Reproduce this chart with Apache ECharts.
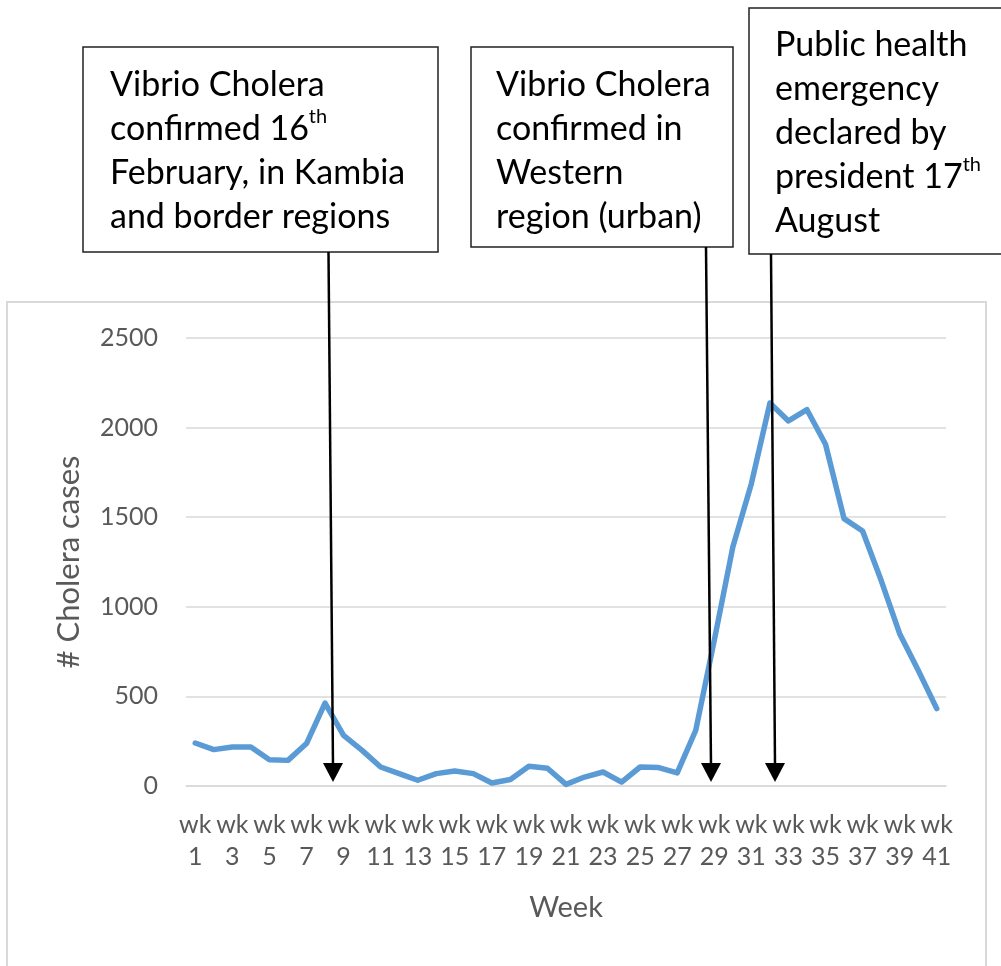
<!DOCTYPE html>
<html>
<head>
<meta charset="utf-8">
<style>
  html, body { margin: 0; padding: 0; background: #ffffff; }
  #chart { width: 1001px; height: 966px; }
</style>
<script src="https://cdn.jsdelivr.net/npm/echarts@6/dist/echarts.min.js"></script>
</head>
<body>
<div id="chart"></div>
<script>
// Weekly cholera cases, weeks 1-41
const weeks = Array.from({ length: 41 }, (_, i) => 'wk\n' + (i + 1));
const cases = [
  240, 203, 218, 218, 147, 143, 237, 463, 283, 199,
  106, 69, 32, 69, 84, 69, 17, 36, 110, 99,
  9, 50, 78, 22, 106, 103, 73, 311, 813, 1334,
  1687, 2137, 2037, 2100, 1907, 1492, 1423, 1148, 850, 646,
  432
];
const yTicks = { min: 0, max: 2500, interval: 500 };

// Event annotations: box text lines
const note1 = ['Vibrio Cholera', 'confirmed 16{sup|th}', 'February, in Kambia', 'and border regions'];
const note2 = ['Vibrio Cholera', 'confirmed in', 'Western', 'region (urban)'];
const note3 = ['Public health', 'emergency', 'declared by', 'president 17{sup|th}', 'August'];

const FONT = 'Lato, "Open Sans", sans-serif';
const textRich = {
  sup: { fontSize: 20, lineHeight: 24, verticalAlign: 'top', fontFamily: FONT, color: '#000' }
};

function box(x, y, w, h) {
  return {
    type: 'rect', z: 10,
    shape: { x: x, y: y, width: w, height: h },
    style: { fill: '#fff', stroke: '#222', lineWidth: 1.5 }
  };
}
function boxText(x, y, lines) {
  return {
    type: 'text', z: 11,
    x: x, y: y,
    style: {
      text: lines.join('\n'),
      fontSize: 34, lineHeight: 44, fontFamily: FONT, fill: '#000',
      rich: textRich
    }
  };
}
function arrow(x1, y1, x2, y2) {
  return [
    {
      type: 'line', z: 12,
      shape: { x1: x1, y1: y1, x2: x2, y2: y2 - 16 },
      style: { stroke: '#000', lineWidth: 2.5 }
    },
    {
      type: 'polygon', z: 12,
      shape: { points: [[x2, y2], [x2 - 10, y2 - 19], [x2 + 10, y2 - 19]] },
      style: { fill: '#000' }
    }
  ];
}

const chart = echarts.init(document.getElementById('chart'), null, { renderer: 'canvas' });
chart.setOption({
  animation: false,
  backgroundColor: '#fff',
  grid: { left: 186, right: 55, top: 338, bottom: 180 },
  xAxis: {
    type: 'category',
    data: weeks,
    boundaryGap: true,
    name: 'Week',
    nameLocation: 'middle',
    nameGap: 107,
    nameTextStyle: { fontSize: 29, color: '#595959', fontFamily: FONT },
    axisLine: { lineStyle: { color: '#d9d9d9', width: 1.5 } },
    axisTick: { show: false },
    axisLabel: {
      interval: 1,
      fontSize: 25, lineHeight: 32, color: '#595959', fontFamily: FONT, margin: 23
    }
  },
  yAxis: {
    type: 'value',
    min: yTicks.min, max: yTicks.max, interval: yTicks.interval,
    name: '# Cholera cases',
    nameLocation: 'middle',
    nameRotate: 90,
    nameGap: 102,
    nameTextStyle: { fontSize: 31, color: '#595959', fontFamily: FONT },
    axisLine: { show: false },
    axisTick: { show: false },
    axisLabel: {
      fontSize: 25, color: '#595959', fontFamily: FONT, margin: 28,
      formatter: (v) => String(v)
    },
    splitLine: { lineStyle: { color: '#d9d9d9', width: 1.5 } }
  },
  series: [{
    type: 'line',
    data: cases,
    symbol: 'none',
    lineStyle: { color: '#5B9BD5', width: 5.5, cap: 'round', join: 'round' }
  }],
  graphic: [
    // chart frame
    {
      type: 'rect', z: -1,
      shape: { x: 7, y: 302, width: 979, height: 680 },
      style: { fill: 'none', stroke: '#d9d9d9', lineWidth: 2 }
    },
    box(83, 47, 355, 205),
    boxText(110, 63, note1),
    box(471, 47, 262, 200),
    boxText(496, 63, note2),
    box(749, 8, 270, 246),
    boxText(775, 23, note3),
    ...arrow(328.5, 252, 333, 782),
    ...arrow(706, 247, 711, 782),
    ...arrow(771, 254, 775, 782)
  ]
});
</script>
</body>
</html>
